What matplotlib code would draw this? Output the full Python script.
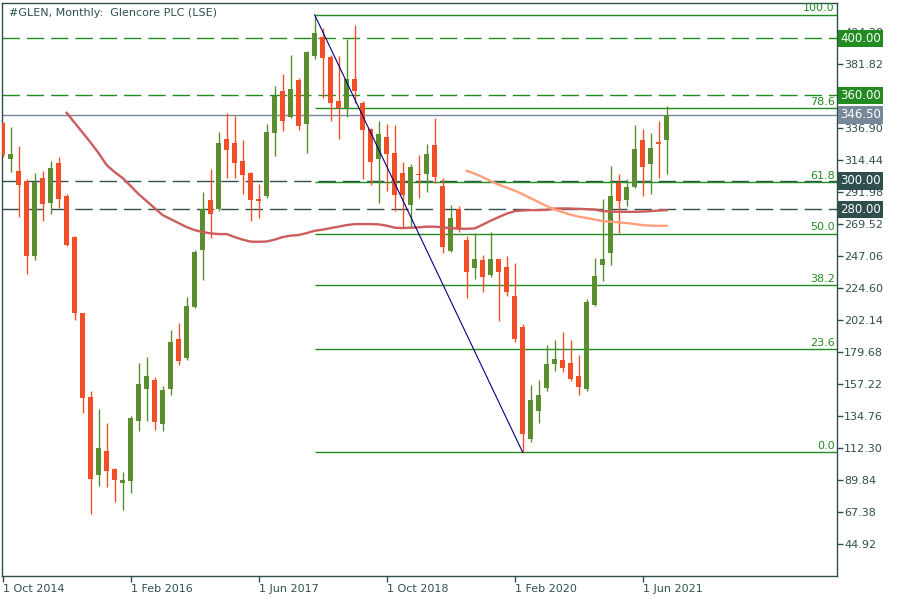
import matplotlib
matplotlib.use('Agg')
import matplotlib.pyplot as plt
import matplotlib.transforms as mtransforms
import pandas as pd

# monthly candles, Oct 2014 .. Sep 2021
opens = [340.6, 315.5, 306.9, 299.9, 247.2, 302.0, 284.4, 312.5, 289.3, 260.6,
         207.2, 148.1, 93.6, 110.6, 98.0, 88.2, 89.6, 131.7, 154.1, 160.2,
         129.6, 154.1, 189.0, 175.9, 211.4, 251.4, 286.5, 280.2, 329.3, 326.3,
         313.9, 305.5, 287.2, 289.3, 333.7, 363.0, 344.8, 370.7, 339.9, 387.8,
         400.9, 387.1, 356.0, 351.1, 371.4, 354.8, 336.4, 315.5, 330.7, 319.3,
         305.5, 283.0, 304.8, 304.8, 325.1, 296.4, 250.9, 280.0, 258.5, 239.0,
         244.4, 233.9, 245.1, 239.5, 219.2, 197.4, 119.0, 138.7, 154.8, 171.7,
         174.3, 172.2, 163.0, 154.1, 213.1, 240.9, 249.5, 298.7, 286.5, 295.7,
         328.6, 312.0, 327.2, 328.8]
highs = [341.5, 338.0, 324.6, 301.3, 305.5, 306.9, 313.9, 316.7, 290.7, 261.0,
         207.5, 152.5, 139.9, 130.3, 98.5, 95.7, 135.0, 172.4, 176.6, 162.5,
         156.0, 195.3, 200.2, 218.5, 251.4, 292.1, 308.3, 334.2, 347.4, 345.5,
         328.6, 306.0, 297.8, 339.9, 366.5, 374.9, 388.3, 372.0, 391.0, 416.6,
         407.2, 388.3, 387.6, 399.7, 409.3, 356.2, 337.0, 342.0, 339.9, 339.2,
         313.2, 311.8, 318.1, 325.8, 344.3, 302.0, 283.0, 282.3, 261.3, 263.2,
         247.9, 264.1, 245.5, 247.2, 242.3, 199.5, 156.7, 160.2, 184.8, 188.3,
         193.9, 188.3, 177.8, 217.3, 245.8, 287.2, 310.4, 304.8, 301.3, 339.2,
         336.4, 333.5, 342.0, 352.5]
lows = [317.0, 306.4, 274.8, 234.6, 244.4, 271.8, 276.7, 280.9, 254.2, 202.3,
        137.3, 66.2, 85.8, 85.3, 74.6, 69.0, 81.1, 124.6, 131.7, 125.1,
        124.6, 149.7, 171.0, 174.5, 210.7, 230.4, 259.9, 278.8, 302.0, 302.0,
        290.7, 271.8, 273.9, 288.0, 317.6, 335.2, 344.0, 336.0, 319.7, 385.5,
        358.3, 342.2, 329.5, 345.0, 354.8, 301.5, 297.3, 284.2, 293.1, 279.0,
        267.8, 267.8, 287.9, 292.1, 298.7, 249.6, 250.3, 264.1, 218.0, 231.3,
        222.2, 232.3, 201.8, 219.4, 187.1, 109.5, 116.9, 130.3, 152.7, 166.7,
        166.0, 159.7, 149.9, 152.7, 212.0, 229.9, 241.1, 263.6, 282.3, 295.0,
        289.5, 290.9, 302.2, 305.0]
closes = [318.1, 318.8, 297.0, 247.2, 299.2, 283.7, 309.0, 287.2, 254.9, 207.2,
          147.8, 91.0, 112.5, 96.6, 90.3, 90.0, 133.6, 157.4, 163.0, 131.0,
          153.2, 186.9, 173.8, 212.2, 250.0, 280.2, 276.7, 326.3, 321.6, 312.5,
          304.1, 286.5, 285.8, 334.2, 359.7, 342.2, 364.4, 338.5, 390.6, 403.7,
          386.4, 354.8, 351.1, 371.4, 363.2, 335.6, 313.2, 332.9, 319.0, 290.2,
          290.2, 309.7, 304.1, 318.8, 302.9, 253.8, 273.9, 266.4, 236.2, 245.1,
          232.7, 245.1, 236.2, 222.2, 189.2, 122.5, 146.2, 149.7, 171.4, 175.0,
          168.9, 161.1, 155.5, 214.9, 233.2, 245.1, 289.3, 286.0, 295.7, 322.3,
          309.9, 323.0, 326.0, 346.5]

# slow moving average (starts at bar 8) and fast one (starts at bar 58)
ma_slow_start = 8
ma_slow = [347.8, 340.8, 333.9, 326.9, 319.5, 311.1, 306.2, 302.0, 296.4, 290.7,
           285.8, 280.9, 276.0, 273.2, 270.4, 267.6, 265.5, 264.1, 263.2, 262.7,
           262.7, 260.6, 258.8, 257.4, 257.3, 257.5, 258.8, 260.6, 261.6, 262.0,
           263.4, 265.0, 265.8, 266.9, 267.9, 269.0, 269.7, 269.7, 269.7, 269.5,
           268.6, 267.2, 266.9, 267.2, 267.4, 267.9, 267.9, 267.4, 266.9, 266.5,
           266.4, 266.7, 269.3, 272.1, 274.6, 277.0, 278.8, 279.3, 279.5, 279.5,
           279.7, 280.6, 280.7, 280.6, 280.4, 280.2, 279.9, 278.8, 278.6, 278.3,
           278.3, 278.3, 278.5, 278.8, 279.2, 279.5]
ma_fast_start = 58
ma_fast = [307.1, 305.1, 302.7, 299.9, 297.4, 295.3, 293.2, 290.7, 287.9, 285.1,
           282.3, 279.9, 278.1, 276.3, 274.9, 274.0, 272.9, 271.8, 271.4, 270.9,
           270.4, 269.7, 269.0, 268.6, 268.5, 268.5]

fib_ratios = [0.0, 23.6, 38.2, 50.0, 61.8, 78.6, 100.0]
fib_high_bar, fib_low_bar = 39, 65

green_levels = [400.0, 360.0]
dark_levels = [300.0, 280.0]
last_price = 346.50

y_ticks = [44.92, 67.38, 89.84, 112.30, 134.76, 157.22, 179.68, 202.14, 224.60,
           247.06, 269.52, 291.98, 314.44, 336.90, 359.36, 381.82, 404.28]
hidden_ticks = [359.36]  # covered by the 360.00 box
tick_dates = ['2014-10-01', '2016-02-01', '2017-06-01', '2018-10-01', '2020-02-01', '2021-06-01']

UP = '#5a8e2e'
DOWN = '#f44e26'
FIB = '#228b22'
SLATE = '#2f4f4f'
GREY = '#778899'

plt.rcParams['font.family'] = 'DejaVu Sans'
fig = plt.figure(figsize=(9, 6), dpi=100)
ax = fig.add_axes([0.0025, 0.04, 0.9275, 0.9555])

n = len(opens)
months = pd.date_range('2014-10-01', periods=n, freq='MS')
xs = list(range(n))

# candles
for i in xs:
    o, h, l, c = opens[i], highs[i], lows[i], closes[i]
    col = UP if c >= o else DOWN
    ax.vlines(i, l, h, color=col, lw=1.0, zorder=3)
    ax.bar(i, max(abs(c - o), 0.8), bottom=min(o, c), width=0.62, color=col,
           edgecolor='none', zorder=4)

# moving averages
ax.plot(range(ma_slow_start, ma_slow_start + len(ma_slow)), ma_slow,
        color='#cd5c5c', lw=1.7, zorder=5)
ax.plot(range(ma_fast_start, ma_fast_start + len(ma_fast)), ma_fast,
        color='#ffa07a', lw=1.7, zorder=5)

# horizontal levels
dash = (0, (12.5, 5))
for lv in green_levels:
    ax.axhline(lv, color=FIB, lw=1.0, ls=dash, zorder=2)
for lv in dark_levels:
    ax.axhline(lv, color=SLATE, lw=1.0, ls=dash, zorder=2)
ax.axhline(last_price, color=GREY, lw=1.0, zorder=2)

# fibonacci retracement
fib_high = highs[fib_high_bar]
fib_low = lows[fib_low_bar]
ax.plot([fib_high_bar, fib_low_bar], [fib_high, fib_low], color='#000080', lw=0.8, zorder=6)
xlim = (-0.05, 104.29)
trans = mtransforms.blended_transform_factory(ax.transAxes, ax.transData)
for r in fib_ratios:
    lv = fib_low + r / 100.0 * (fib_high - fib_low)
    ax.hlines(lv, fib_high_bar, xlim[1], color=FIB, lw=1.0, zorder=2)
    ax.text(0.9975, lv + 1.0, '%.1f' % r, transform=trans, ha='right', va='bottom',
            color=FIB, fontsize=8, zorder=7)

ax.set_xlim(*xlim)
ax.set_ylim(22.7, 425.1)

# axes styling
for s in ax.spines.values():
    s.set_color(SLATE)
    s.set_linewidth(1.0)
ax.yaxis.tick_right()
ax.set_yticks(y_ticks)
ax.set_yticklabels(['' if v in hidden_ticks else '%.2f' % v for v in y_ticks])
tick_pos = [xs[list(months).index(pd.Timestamp(d))] for d in tick_dates]
ax.set_xticks(tick_pos)
ax.set_xticklabels([pd.Timestamp(d).strftime('1 %b %Y') for d in tick_dates])
for lab in ax.get_xticklabels():
    lab.set_ha('left')
ax.tick_params(axis='both', direction='out', length=4, width=1, color=SLATE,
               labelcolor=SLATE, labelsize=8, pad=1)
ax.tick_params(axis='x', pad=2)

# price boxes on the right axis
boxes = [(400.0, FIB), (360.0, FIB), (300.0, SLATE), (280.0, SLATE), (last_price, GREY)]
for lv, fc in boxes:
    ax.text(1.0035, lv, '%.2f' % lv, transform=trans, ha='left', va='center',
            color='white', fontsize=8.5, clip_on=False, zorder=10,
            bbox=dict(boxstyle='square,pad=0.2', fc=fc, ec='none'))

ax.text(0.008, 0.99, '#GLEN, Monthly:  Glencore PLC (LSE)', transform=ax.transAxes,
        ha='left', va='top', color=SLATE, fontsize=8)

fig.savefig('out.png', dpi=100)
